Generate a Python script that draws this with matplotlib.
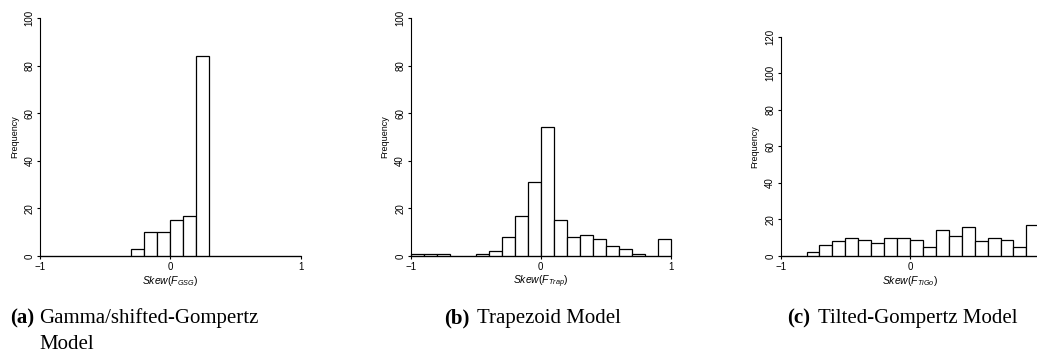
import numpy as np
import matplotlib
matplotlib.use("Agg")
import matplotlib.pyplot as plt

plt.rcParams['font.family'] = ['Liberation Sans', 'DejaVu Sans']
plt.rcParams['mathtext.fontset'] = 'custom'
plt.rcParams['mathtext.rm'] = 'Liberation Sans'
plt.rcParams['mathtext.it'] = 'Liberation Sans:italic'
plt.rcParams['axes.unicode_minus'] = True

# histogram bins: width 0.1 from -1 to 1
breaks = np.round(np.arange(-1.0, 1.01, 0.1), 2)

counts_gsg = [0, 0, 0, 0, 0, 0, 0, 3, 10, 10, 15, 17, 84, 0, 0, 0, 0, 0, 0, 0]
counts_trap = [1, 1, 1, 0, 0, 1, 2, 8, 17, 31, 54, 15, 8, 9, 7, 4, 3, 1, 0, 7]
counts_tigo = [0, 0, 2, 6, 8, 10, 9, 7, 10, 10, 9, 5, 14, 11, 16, 8, 10, 9, 5, 17]

xlabels = [r'$Skew(F_{GSG})$', r'$Skew(F_{Trap})$', r'$Skew(F_{TiGo})$']
ymaxes = [100, 100, 120]
tags = ['(a)', '(b)', '(c)']
captions = [['Gamma/shifted-Gompertz', 'Model'], ['Trapezoid Model'], ['Tilted-Gompertz Model']]

W, H = 1037, 352
fig = plt.figure(figsize=(W / 100, H / 100), dpi=100)

# axes boxes in pixels: left, width, top
boxes = [(40.0, 260.7, 18.0), (410.7, 260.0, 18.0), (780.7, 258.6, 36.7)]
base = 256.0

for i, counts in enumerate([counts_gsg, counts_trap, counts_tigo]):
    left, width, top = boxes[i]
    ax = fig.add_axes([left / W, 1 - base / H, width / W, (base - top) / H])
    ax.bar(breaks[:-1], counts, width=0.1, align='edge', facecolor='white',
           edgecolor='black', linewidth=0.9, clip_on=False)
    ax.set_xlim(-1, 1)
    ax.set_ylim(0, ymaxes[i])
    ax.set_xticks([-1, 0, 1])
    ax.set_yticks(np.arange(0, ymaxes[i] + 1, 20))
    for s in ['top', 'right']:
        ax.spines[s].set_visible(False)
    for s in ['left', 'bottom']:
        ax.spines[s].set_linewidth(0.8)
    ax.tick_params(length=2.5, width=0.8, labelsize=7, pad=1.5)
    ax.tick_params(axis='y', labelrotation=90)
    for lab in ax.get_yticklabels():
        lab.set_va('center')
    if i == 2:
        # the last tick label falls outside the figure
        ax.get_xticklabels()[-1].set_visible(False)
    ax.set_ylabel('Frequency', fontsize=6.5, labelpad=4)
    ax.set_xlabel(xlabels[i], fontsize=7.5, labelpad=1.5)

# captions under each panel
tag_x = [10, 444.3, 787]
text_x = [39, 477.3, 818]
for i in range(3):
    fig.text(tag_x[i] / W, 1 - 323 / H, tags[i], family='Liberation Serif',
             fontsize=15, fontweight='bold', va='baseline', ha='left')
    for k, line in enumerate(captions[i]):
        fig.text(text_x[i] / W, 1 - (323 + 26 * k) / H, line, family='Liberation Serif',
                 fontsize=15, va='baseline', ha='left')

fig.savefig('out.png', dpi=100)
